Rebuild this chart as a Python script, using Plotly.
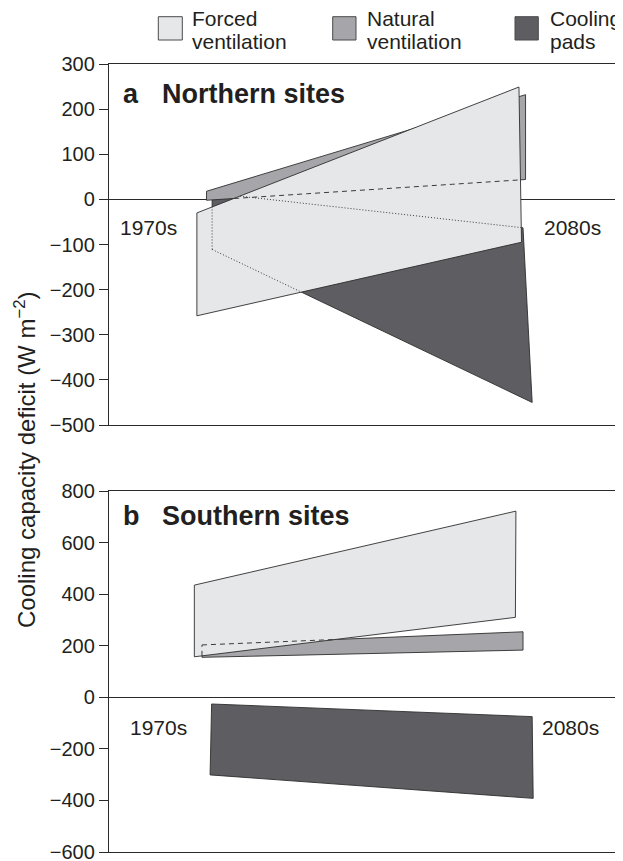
import numpy as np
import plotly.graph_objects as go

# ---------------- DATA ----------------
periods = ["1970s", "2080s"]
series_names = ["Forced ventilation", "Natural ventilation", "Cooling pads"]

# [low, high] cooling capacity deficit (W m-2)
north_forced_1970s = [-258, -30]
north_forced_2080s = [-95, 249]
north_natural_1970s = [-2, 18]
north_natural_2080s = [44, 232]
north_cooling_1970s = [-111, 14]
north_cooling_2080s = [-450, -63]

south_forced_1970s = [157, 435]
south_forced_2080s = [310, 722]
south_natural_1970s = [155, 203]
south_natural_2080s = [183, 254]
south_cooling_1970s = [-301, -26]
south_cooling_2080s = [-392, -75]

north_ticks = [300, 200, 100, 0, -100, -200, -300, -400, -500]
south_ticks = [800, 600, 400, 200, 0, -200, -400, -600]

# ---------------- STYLE ----------------
FONT = "Liberation Sans, Arial, Helvetica, sans-serif"
TXT = "#231f20"
fills = {"Forced ventilation": "#e6e7e9", "Natural ventilation": "#a6a5a9",
         "Cooling pads": "#5e5d62"}
hidden_dash = {"Natural ventilation": "5px,4px", "Cooling pads": "1px,2px"}
# x placement (axis units 0..100) of each period edge: (left_top, left_bottom, right_top, right_bottom)
xpos = {
    "a": {"Forced ventilation": (17.3, 17.3, 80.7, 81.2),
          "Natural ventilation": (19.2, 19.2, 82.0, 82.0),
          "Cooling pads": (20.3, 20.3, 81.5, 83.3)},
    "b": {"Forced ventilation": (16.8, 16.8, 80.1, 80.0),
          "Natural ventilation": (18.3, 18.3, 81.5, 81.5),
          "Cooling pads": (20.2, 19.9, 83.3, 83.5)},
}
hidden_edges = {"a": {"Natural ventilation": ["bottom"], "Cooling pads": ["top", "left", "bottom"]},
                "b": {"Natural ventilation": ["top", "left"], "Cooling pads": []}}

panels = {
    "a": {"Forced ventilation": (north_forced_1970s, north_forced_2080s),
          "Natural ventilation": (north_natural_1970s, north_natural_2080s),
          "Cooling pads": (north_cooling_1970s, north_cooling_2080s)},
    "b": {"Forced ventilation": (south_forced_1970s, south_forced_2080s),
          "Natural ventilation": (south_natural_1970s, south_natural_2080s),
          "Cooling pads": (south_cooling_1970s, south_cooling_2080s)},
}


def corners(panel, name):
    v70, v80 = panels[panel][name]
    xlt, xlb, xrt, xrb = xpos[panel][name]
    return np.array([[xlb, v70[0]], [xlt, v70[1]], [xrt, v80[1]], [xrb, v80[0]]], float)


def inside(px, py, poly):
    res = np.zeros(px.shape, bool)
    n = len(poly)
    for i in range(n):
        x1, y1 = poly[i]
        x2, y2 = poly[(i + 1) % n]
        cond = (y1 > py) != (y2 > py)
        xint = (x2 - x1) * (py - y1) / ((y2 - y1) if y2 != y1 else 1e-12) + x1
        res ^= cond & (px < xint)
    return res


fig = go.Figure()
axis_ref = {"a": ("x", "y"), "b": ("x2", "y2")}
draw_order = ["Cooling pads", "Natural ventilation", "Forced ventilation"]
for panel in ["a", "b"]:
    xr, yr = axis_ref[panel]
    for name in draw_order:
        c = corners(panel, name)
        fig.add_trace(go.Scatter(
            x=list(c[:, 0]) + [c[0, 0]], y=list(c[:, 1]) + [c[0, 1]],
            mode="lines", fill="toself", fillcolor=fills[name],
            line=dict(color="#2e2e2e", width=0.9), name=name,
            showlegend=False, hoverinfo="skip", xaxis=xr, yaxis=yr))
    forced = corners(panel, "Forced ventilation")
    for name, edges in hidden_edges[panel].items():
        c = corners(panel, name)
        seg = {"left": (c[0], c[1]), "top": (c[1], c[2]), "bottom": (c[0], c[3])}
        for e in edges:
            p0, p1 = seg[e]
            t = np.linspace(0, 1, 600)
            px = p0[0] + (p1[0] - p0[0]) * t
            py = p0[1] + (p1[1] - p0[1]) * t
            m = inside(px, py, forced)
            xs = [float(a) if k else None for a, k in zip(px, m)]
            ys = [float(b) if k else None for b, k in zip(py, m)]
            fig.add_trace(go.Scatter(
                x=xs, y=ys, mode="lines", connectgaps=False,
                line=dict(color="#3a3a3a", width=1, dash=hidden_dash[name]),
                showlegend=False, hoverinfo="skip", xaxis=xr, yaxis=yr))

# ---------------- LAYOUT ----------------
# the page adds an 8px body margin, so the figure is offset by 8px
OFF = 8
PAGE_W, PAGE_H = 623, 861
W, H = PAGE_W - OFF, PAGE_H - OFF
PLOT_L, PLOT_R, PLOT_T, PLOT_B = 109, 617, 64, 852  # page pixels of the plot area
L, R, T, B = PLOT_L - OFF, PAGE_W - PLOT_R, PLOT_T - OFF, PAGE_H - PLOT_B
PH = PLOT_B - PLOT_T
PW = PLOT_R - PLOT_L


def xp(px):
    return (px - PLOT_L) / PW


def yp(py):
    return (PLOT_B - py) / PH


common_x = dict(range=[0, 100], showticklabels=False, ticks="", showgrid=False,
                zeroline=False, showline=True, mirror=True, linecolor="#2a2a2a",
                linewidth=1.4, fixedrange=True, automargin=False)
common_y = dict(ticks="outside", ticklen=9, tickwidth=1.4, tickcolor="#2a2a2a",
                showline=True, mirror=True, linecolor="#2a2a2a", linewidth=1.4,
                showgrid=False, zeroline=True, zerolinecolor="#2a2a2a", zerolinewidth=1,
                automargin=False, ticklabeloverflow="allow",
                tickfont=dict(size=20, color=TXT, family=FONT))

fig.update_layout(
    width=W, height=H, margin=dict(l=L, r=R, t=T, b=B, autoexpand=False),
    paper_bgcolor="white", plot_bgcolor="white", showlegend=False,
    font=dict(family=FONT, color=TXT, size=20),
    xaxis=dict(domain=[0, 1], anchor="y", **common_x),
    yaxis=dict(domain=[yp(425), 1], anchor="x", range=[-500, 300],
               tickvals=north_ticks, **common_y),
    xaxis2=dict(domain=[0, 1], anchor="y2", **common_x),
    yaxis2=dict(domain=[0, yp(491)], anchor="x2", range=[-600, 800],
                tickvals=south_ticks, **common_y),
)

ann = []
# panel titles
ann.append(dict(text="<b>a</b>", x=xp(121), y=yp(94), xanchor="left", yanchor="middle",
                font=dict(size=27)))
ann.append(dict(text="<b>Northern sites</b>", x=xp(160), y=yp(94), xanchor="left",
                yanchor="middle", font=dict(size=27)))
ann.append(dict(text="<b>b</b>", x=xp(121), y=yp(516), xanchor="left", yanchor="middle",
                font=dict(size=27)))
ann.append(dict(text="<b>Southern sites</b>", x=xp(160), y=yp(516), xanchor="left",
                yanchor="middle", font=dict(size=27)))
# period labels
for (txt, px, py) in [(periods[0], 148, 227.5), (periods[1], 572, 228),
                      (periods[0], 158, 727.3), (periods[1], 570, 727.5)]:
    ann.append(dict(text=txt, x=xp(px), y=yp(py), xanchor="center", yanchor="middle",
                    font=dict(size=21)))
# y-axis title
ann.append(dict(text="Cooling capacity deficit (W m<sup>\u22122</sup>)", x=xp(25), y=yp(460),
                xanchor="center", yanchor="middle", textangle=-90, font=dict(size=24)))

# legend
leg_boxes = [(158.3, 182.3, 190), (332.7, 356.0, 365), (515.0, 538.3, 548.3)]
leg_lines = [("Forced", "ventilation"), ("Natural", "ventilation"), ("Cooling", "pads")]
shapes = []
for name, (bx0, bx1, lx), (l1, l2) in zip(series_names, leg_boxes, leg_lines):
    shapes.append(dict(type="rect", xref="paper", yref="paper", x0=xp(bx0), x1=xp(bx1),
                       y0=yp(40), y1=yp(16.7), fillcolor=fills[name],
                       line=dict(color="#4a4a4a", width=1)))
    ann.append(dict(text=l1, x=xp(lx), y=yp(18.3), xanchor="left", yanchor="middle",
                    font=dict(size=21)))
    ann.append(dict(text=l2, x=xp(lx), y=yp(41.3), xanchor="left", yanchor="middle",
                    font=dict(size=21)))

for a in ann:
    a.update(xref="paper", yref="paper", showarrow=False)
    a.setdefault("font", {})
    a["font"].setdefault("family", FONT)
    a["font"].setdefault("color", TXT)
fig.update_layout(annotations=ann, shapes=shapes)

fig.write_html("out.html")
